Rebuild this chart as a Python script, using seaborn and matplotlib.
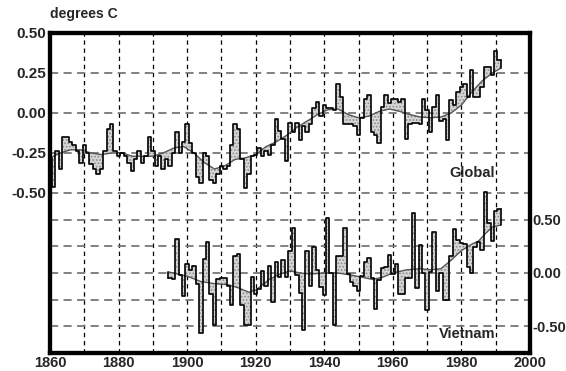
import numpy as np
import matplotlib
matplotlib.use("Agg")
import matplotlib.pyplot as plt
import seaborn as sns

# ---------------- data ----------------
global_years = list(range(1860, 1992))
global_anom = [
    -0.28, -0.46, -0.24, -0.35, -0.15, -0.15, -0.18, -0.20, -0.24, -0.31,   # 1860s
    -0.20, -0.25, -0.32, -0.35, -0.38, -0.35, -0.24, -0.10, -0.07, -0.24,   # 1870s
    -0.27, -0.25, -0.27, -0.31, -0.36, -0.29, -0.24, -0.31, -0.27, -0.15,   # 1880s
    -0.24, -0.33, -0.27, -0.35, -0.29, -0.33, -0.25, -0.12, -0.25, -0.18,   # 1890s
    -0.07, -0.19, -0.25, -0.40, -0.44, -0.25, -0.27, -0.42, -0.44, -0.38,   # 1900s
    -0.33, -0.35, -0.33, -0.20, -0.07, -0.10, -0.29, -0.47, -0.38, -0.27,   # 1910s
    -0.26, -0.22, -0.27, -0.24, -0.26, -0.20, -0.04, -0.11, -0.16, -0.30,   # 1920s
    -0.06, -0.12, -0.06, -0.17, -0.08, -0.12, -0.07, 0.03, 0.07, -0.02,     # 1930s
    0.05, 0.03, 0.03, 0.02, 0.18, 0.10, -0.07, -0.07, -0.07, -0.08,         # 1940s
    -0.14, -0.03, 0.09, 0.11, -0.12, -0.14, -0.19, 0.04, 0.11, 0.06,        # 1950s
    0.09, 0.09, 0.07, 0.09, -0.16, -0.07, -0.06, -0.06, -0.07, 0.09,        # 1960s
    0.02, -0.12, 0.04, 0.11, -0.05, -0.04, -0.17, 0.08, 0.05, 0.13,         # 1970s
    0.16, 0.18, 0.10, 0.27, 0.10, 0.10, 0.16, 0.29, 0.29, 0.24,             # 1980s
    0.39, 0.33,                                                             # 1990s
]
global_smooth_years = [1860, 1863, 1866, 1869, 1872, 1875, 1878, 1881, 1884, 1887,
                       1890, 1893, 1896, 1899, 1902, 1905, 1908, 1911, 1914, 1917,
                       1920, 1923, 1926, 1929, 1932, 1935, 1938, 1941, 1944, 1947,
                       1950, 1953, 1956, 1959, 1962, 1965, 1968, 1971, 1974, 1977,
                       1980, 1983, 1986, 1989, 1991.5]
global_smooth = [-0.28, -0.25, -0.23, -0.23, -0.25, -0.26, -0.25, -0.25, -0.27, -0.27,
                 -0.27, -0.25, -0.22, -0.21, -0.25, -0.31, -0.35, -0.33, -0.29, -0.28,
                 -0.26, -0.21, -0.18, -0.14, -0.09, -0.05, -0.01, 0.02, 0.025, -0.01,
                 -0.03, -0.02, 0.01, 0.025, 0.01, -0.01, -0.025, -0.03, -0.025, 0.0,
                 0.05, 0.13, 0.20, 0.25, 0.28]

vietnam_years = list(range(1895, 1992))
vietnam_anom = [
    -0.05, -0.06, 0.32, -0.02, -0.22,                                       # 1895-99
    0.08, 0.03, 0.07, -0.10, -0.56, 0.13, 0.29, -0.20, -0.49, -0.06,        # 1900s
    -0.05, -0.05, -0.12, -0.30, 0.16, 0.18, -0.30, -0.49, -0.49, -0.04,     # 1910s
    -0.20, -0.15, 0.02, -0.12, 0.07, -0.27, 0.10, -0.04, 0.12, -0.04,       # 1920s
    0.21, 0.42, -0.02, -0.19, -0.53, 0.21, -0.12, 0.24, 0.03, -0.13,        # 1930s
    -0.21, 0.52, 0.00, -0.49, 0.16, 0.16, 0.42, -0.01, -0.08, -0.12,        # 1940s
    -0.17, -0.03, 0.10, 0.14, -0.05, -0.34, -0.07, 0.05, 0.06, 0.17,        # 1950s
    -0.01, 0.08, -0.20, -0.20, -0.05, -0.05, 0.56, -0.14, 0.26, 0.00,       # 1960s
    -0.35, 0.01, 0.38, -0.17, 0.00, -0.25, -0.25, 0.16, 0.41, 0.31,         # 1970s
    0.28, 0.27, 0.06, 0.00, 0.24, 0.29, 0.22, 0.76, 0.47, 0.30,             # 1980s
    0.58, 0.60,                                                             # 1990s
]
vietnam_smooth_years = [1894.5, 1900, 1904, 1908, 1912, 1915, 1918, 1920, 1922, 1924,
                        1927, 1930, 1933, 1936, 1940, 1944, 1948, 1951, 1954, 1957,
                        1960, 1964, 1968, 1971, 1974, 1977, 1980, 1983, 1985, 1987,
                        1989, 1991.5]
vietnam_smooth = [0.01, -0.03, -0.08, -0.10, -0.11, -0.14, -0.18, -0.16, -0.11, -0.06,
                  -0.01, 0.02, 0.0, -0.01, 0.0, 0.0, -0.02, -0.04, -0.06, -0.04,
                  0.0, 0.03, 0.04, 0.03, 0.04, 0.12, 0.21, 0.27, 0.30, 0.37,
                  0.43, 0.45]

x_ticks = [1860, 1880, 1900, 1920, 1940, 1960, 1980, 2000]
x_grid = [1870, 1880, 1890, 1900, 1910, 1920, 1930, 1940, 1950, 1960, 1970, 1980, 1990]
left_ticks = [0.50, 0.25, 0.00, -0.25, -0.50]
left_labels = ["0.50", "0.25", "0.00", "-0.25", "-0.50"]
right_ticks = [0.50, 0.25, 0.00, -0.25, -0.50]
right_labels = ["0.50", "", "0.00", "", "-0.50"]

# ---------------- style ----------------
sns.set_style("white")
plt.rcParams['font.family'] = ['Liberation Sans', 'DejaVu Sans']
plt.rcParams['font.weight'] = 'bold'
plt.rcParams['hatch.linewidth'] = 0.8

FILL = '#d6d6d6'
HATCH = '#8a8a8a'
SMOOTH = '#555555'

fig = plt.figure(figsize=(5.66, 3.71), dpi=100)
ax = fig.add_axes([50 / 566, 18 / 371, 480 / 566, 320 / 371])
ax2 = ax.twinx()

ax.set_xlim(1860, 2000)
ax.set_ylim(-1.5, 0.5)
ax2.set_ylim(-0.75, 2.25)


def draw_series(axis, years, vals, syears, svals):
    years = np.asarray(years, dtype=float)
    vals = np.asarray(vals, dtype=float)
    xs = np.ravel(np.column_stack([years - 0.5, years + 0.5]))
    ys = np.repeat(vals, 2)
    sx = np.asarray(syears, dtype=float)
    sy = np.asarray(svals, dtype=float)
    # shaded (stippled) region between the annual steps and the smoothed curve
    axis.fill(np.concatenate([xs, sx[::-1]]), np.concatenate([ys, sy[::-1]]),
              facecolor=FILL, edgecolor=HATCH, hatch='.....', lw=0, zorder=2)
    sns.lineplot(x=sx, y=sy, ax=axis, color=SMOOTH, lw=1.0, sort=False,
                 estimator=None, zorder=3)
    sns.lineplot(x=xs, y=ys, ax=axis, color='black', lw=1.2, sort=False,
                 estimator=None, zorder=4)
    # closing verticals at ends
    axis.plot([xs[-1], xs[-1]], [ys[-1], sy[-1]], color='black', lw=1.2, zorder=4)
    axis.plot([xs[0], xs[0]], [ys[0], sy[0]], color='black', lw=1.2, zorder=4)


draw_series(ax, global_years, global_anom, global_smooth_years, global_smooth)
draw_series(ax2, vietnam_years, vietnam_anom, vietnam_smooth_years, vietnam_smooth)

# grid lines
for xv in x_grid:
    ax.axvline(xv, color='black', lw=0.9, ls=(0, (3.5, 3)), zorder=1)
for yv in [0.25, 0.0, -0.25, -0.5]:
    ax.axhline(yv, color='#777777', lw=1.3, ls=(0, (4.5, 3)), zorder=1)
for yv in right_ticks:
    ax2.axhline(yv, color='#777777', lw=1.3, ls=(0, (4.5, 3)), zorder=1)

ax.set_xticks(x_ticks)
ax.set_xticklabels([str(v) for v in x_ticks])
ax.set_yticks(left_ticks)
ax.set_yticklabels(left_labels)
ax2.set_yticks(right_ticks)
ax2.set_yticklabels(right_labels)
ax.set_xlabel("")
ax.set_ylabel("")
ax2.set_ylabel("")
ax2.set_xlabel("")

for a in (ax, ax2):
    a.tick_params(length=0, labelsize=10.5, pad=2)
    for sp in a.spines.values():
        sp.set_linewidth(3)
        sp.set_color('black')
ax.tick_params(axis='y', labelsize=11, pad=3)
ax.tick_params(axis='x', pad=2)

fig.text(50 / 566, 1 - 14 / 371, "degrees C", fontsize=10, fontweight='bold',
         ha='left', va='center')
ax.text(1983.1, -0.373, "Global", fontsize=10.5, fontweight='bold',
        ha='center', va='center', zorder=6)
ax.text(1981.6, -1.38, "Vietnam", fontsize=10.5, fontweight='bold',
        ha='center', va='center', zorder=6)

fig.savefig("out.png", dpi=100)
